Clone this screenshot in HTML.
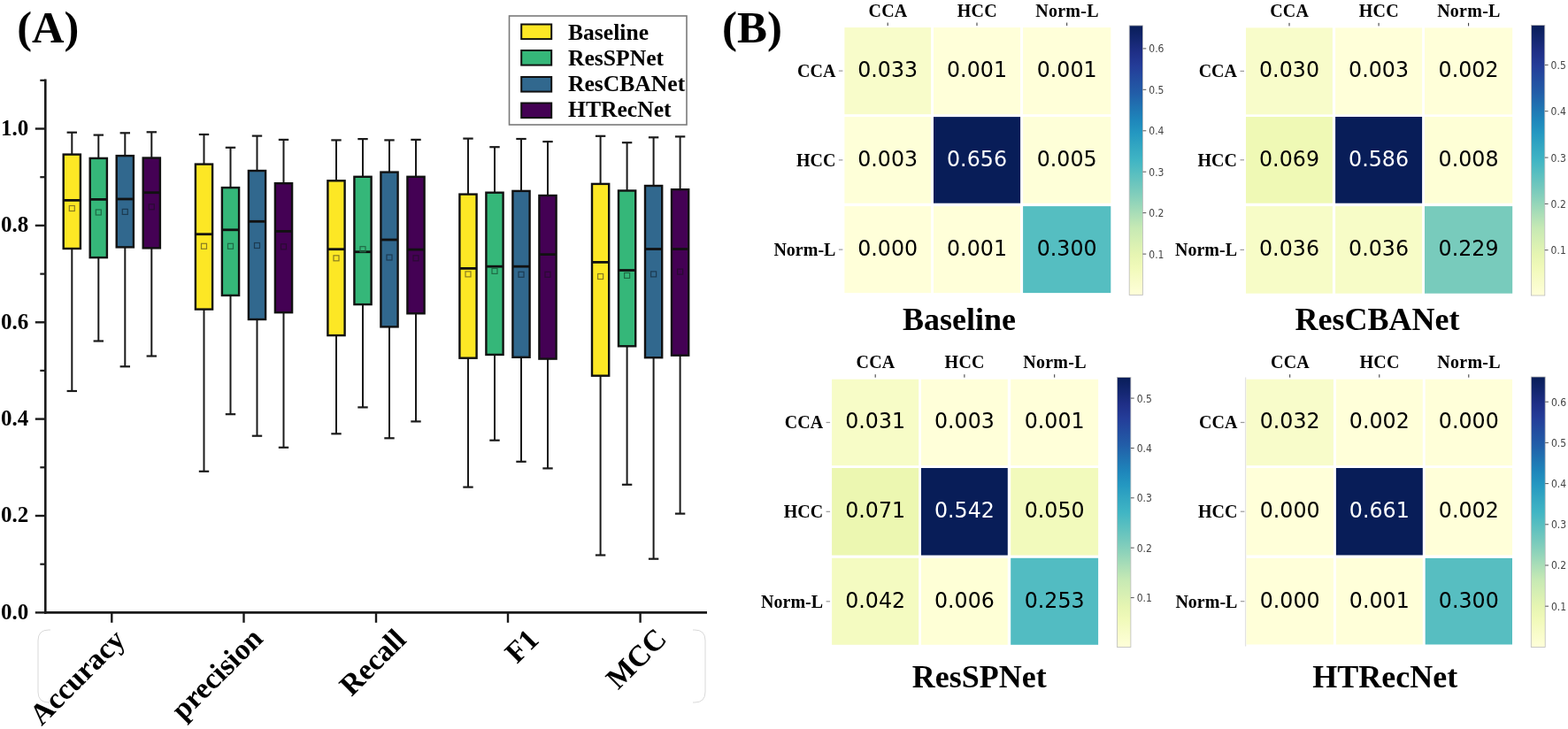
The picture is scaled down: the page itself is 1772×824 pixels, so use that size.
<!DOCTYPE html>
<html><head><meta charset="utf-8"><title>Figure</title>
<style>html,body{margin:0;padding:0;background:#fff;} svg{display:block;}</style>
</head><body>
<svg width="1772" height="824" viewBox="0 0 1772 824"><defs><linearGradient id="g1" x1="0" y1="0" x2="0" y2="1"><stop offset="0.00" stop-color="#081d58"/><stop offset="0.05" stop-color="#13266f"/><stop offset="0.10" stop-color="#1f2f87"/><stop offset="0.15" stop-color="#243c98"/><stop offset="0.20" stop-color="#234da0"/><stop offset="0.25" stop-color="#225da8"/><stop offset="0.30" stop-color="#2072b1"/><stop offset="0.35" stop-color="#1e86bb"/><stop offset="0.40" stop-color="#2498c1"/><stop offset="0.45" stop-color="#33a7c2"/><stop offset="0.50" stop-color="#40b5c4"/><stop offset="0.55" stop-color="#59bfc0"/><stop offset="0.60" stop-color="#73c8bd"/><stop offset="0.65" stop-color="#8ed3ba"/><stop offset="0.70" stop-color="#abdeb7"/><stop offset="0.75" stop-color="#c6e9b4"/><stop offset="0.80" stop-color="#d6efb3"/><stop offset="0.85" stop-color="#e6f5b2"/><stop offset="0.90" stop-color="#f1faba"/><stop offset="0.95" stop-color="#f8fcca"/><stop offset="1.00" stop-color="#ffffd9"/></linearGradient><linearGradient id="g2" x1="0" y1="0" x2="0" y2="1"><stop offset="0.00" stop-color="#081d58"/><stop offset="0.05" stop-color="#13266f"/><stop offset="0.10" stop-color="#1f2f87"/><stop offset="0.15" stop-color="#243c98"/><stop offset="0.20" stop-color="#234da0"/><stop offset="0.25" stop-color="#225da8"/><stop offset="0.30" stop-color="#2072b1"/><stop offset="0.35" stop-color="#1e86bb"/><stop offset="0.40" stop-color="#2498c1"/><stop offset="0.45" stop-color="#33a7c2"/><stop offset="0.50" stop-color="#40b5c4"/><stop offset="0.55" stop-color="#59bfc0"/><stop offset="0.60" stop-color="#73c8bd"/><stop offset="0.65" stop-color="#8ed3ba"/><stop offset="0.70" stop-color="#abdeb7"/><stop offset="0.75" stop-color="#c6e9b4"/><stop offset="0.80" stop-color="#d6efb3"/><stop offset="0.85" stop-color="#e6f5b2"/><stop offset="0.90" stop-color="#f1faba"/><stop offset="0.95" stop-color="#f8fcca"/><stop offset="1.00" stop-color="#ffffd9"/></linearGradient><linearGradient id="g3" x1="0" y1="0" x2="0" y2="1"><stop offset="0.00" stop-color="#081d58"/><stop offset="0.05" stop-color="#13266f"/><stop offset="0.10" stop-color="#1f2f87"/><stop offset="0.15" stop-color="#243c98"/><stop offset="0.20" stop-color="#234da0"/><stop offset="0.25" stop-color="#225da8"/><stop offset="0.30" stop-color="#2072b1"/><stop offset="0.35" stop-color="#1e86bb"/><stop offset="0.40" stop-color="#2498c1"/><stop offset="0.45" stop-color="#33a7c2"/><stop offset="0.50" stop-color="#40b5c4"/><stop offset="0.55" stop-color="#59bfc0"/><stop offset="0.60" stop-color="#73c8bd"/><stop offset="0.65" stop-color="#8ed3ba"/><stop offset="0.70" stop-color="#abdeb7"/><stop offset="0.75" stop-color="#c6e9b4"/><stop offset="0.80" stop-color="#d6efb3"/><stop offset="0.85" stop-color="#e6f5b2"/><stop offset="0.90" stop-color="#f1faba"/><stop offset="0.95" stop-color="#f8fcca"/><stop offset="1.00" stop-color="#ffffd9"/></linearGradient><linearGradient id="g4" x1="0" y1="0" x2="0" y2="1"><stop offset="0.00" stop-color="#081d58"/><stop offset="0.05" stop-color="#13266f"/><stop offset="0.10" stop-color="#1f2f87"/><stop offset="0.15" stop-color="#243c98"/><stop offset="0.20" stop-color="#234da0"/><stop offset="0.25" stop-color="#225da8"/><stop offset="0.30" stop-color="#2072b1"/><stop offset="0.35" stop-color="#1e86bb"/><stop offset="0.40" stop-color="#2498c1"/><stop offset="0.45" stop-color="#33a7c2"/><stop offset="0.50" stop-color="#40b5c4"/><stop offset="0.55" stop-color="#59bfc0"/><stop offset="0.60" stop-color="#73c8bd"/><stop offset="0.65" stop-color="#8ed3ba"/><stop offset="0.70" stop-color="#abdeb7"/><stop offset="0.75" stop-color="#c6e9b4"/><stop offset="0.80" stop-color="#d6efb3"/><stop offset="0.85" stop-color="#e6f5b2"/><stop offset="0.90" stop-color="#f1faba"/><stop offset="0.95" stop-color="#f8fcca"/><stop offset="1.00" stop-color="#ffffd9"/></linearGradient></defs><rect width="1772" height="824" fill="#fff"/><text x="19.2" y="48.4" font-family="'Liberation Serif', 'Times New Roman', serif" font-weight="bold" font-size="50.5">(A)</text>
<line x1="51.3" y1="89.5" x2="51.3" y2="693.6999999999999" stroke="#1a1a1a" stroke-width="2.6"/>
<line x1="50.0" y1="692.4" x2="799" y2="692.4" stroke="#1a1a1a" stroke-width="2.8"/>
<line x1="39.8" y1="692.4" x2="51.3" y2="692.4" stroke="#1a1a1a" stroke-width="2.4"/>
<text x="32.2" y="699.8" text-anchor="end" font-family="'Liberation Serif', 'Times New Roman', serif" font-weight="bold" font-size="25">0.0</text>
<line x1="45.3" y1="637.7" x2="51.3" y2="637.7" stroke="#1a1a1a" stroke-width="2.2"/>
<line x1="39.8" y1="583.0" x2="51.3" y2="583.0" stroke="#1a1a1a" stroke-width="2.4"/>
<text x="32.2" y="590.4" text-anchor="end" font-family="'Liberation Serif', 'Times New Roman', serif" font-weight="bold" font-size="25">0.2</text>
<line x1="45.3" y1="528.3" x2="51.3" y2="528.3" stroke="#1a1a1a" stroke-width="2.2"/>
<line x1="39.8" y1="473.6" x2="51.3" y2="473.6" stroke="#1a1a1a" stroke-width="2.4"/>
<text x="32.2" y="481.0" text-anchor="end" font-family="'Liberation Serif', 'Times New Roman', serif" font-weight="bold" font-size="25">0.4</text>
<line x1="45.3" y1="418.9" x2="51.3" y2="418.9" stroke="#1a1a1a" stroke-width="2.2"/>
<line x1="39.8" y1="364.3" x2="51.3" y2="364.3" stroke="#1a1a1a" stroke-width="2.4"/>
<text x="32.2" y="371.7" text-anchor="end" font-family="'Liberation Serif', 'Times New Roman', serif" font-weight="bold" font-size="25">0.6</text>
<line x1="45.3" y1="309.6" x2="51.3" y2="309.6" stroke="#1a1a1a" stroke-width="2.2"/>
<line x1="39.8" y1="254.9" x2="51.3" y2="254.9" stroke="#1a1a1a" stroke-width="2.4"/>
<text x="32.2" y="262.3" text-anchor="end" font-family="'Liberation Serif', 'Times New Roman', serif" font-weight="bold" font-size="25">0.8</text>
<line x1="45.3" y1="200.2" x2="51.3" y2="200.2" stroke="#1a1a1a" stroke-width="2.2"/>
<line x1="39.8" y1="145.5" x2="51.3" y2="145.5" stroke="#1a1a1a" stroke-width="2.4"/>
<text x="32.2" y="152.9" text-anchor="end" font-family="'Liberation Serif', 'Times New Roman', serif" font-weight="bold" font-size="25">1.0</text>
<line x1="45.3" y1="90.8" x2="51.3" y2="90.8" stroke="#1a1a1a" stroke-width="2.2"/>
<line x1="126.3" y1="692.4" x2="126.3" y2="703.8" stroke="#1a1a1a" stroke-width="2.4"/>
<line x1="275.5" y1="692.4" x2="275.5" y2="703.8" stroke="#1a1a1a" stroke-width="2.4"/>
<line x1="425.0" y1="692.4" x2="425.0" y2="703.8" stroke="#1a1a1a" stroke-width="2.4"/>
<line x1="574.0" y1="692.4" x2="574.0" y2="703.8" stroke="#1a1a1a" stroke-width="2.4"/>
<line x1="723.6" y1="692.4" x2="723.6" y2="703.8" stroke="#1a1a1a" stroke-width="2.4"/>
<line x1="81.3" y1="149.7" x2="81.3" y2="174.0" stroke="#1a1a1a" stroke-width="2"/>
<line x1="81.3" y1="281.4" x2="81.3" y2="442.0" stroke="#1a1a1a" stroke-width="2"/>
<line x1="75.6" y1="149.7" x2="87.0" y2="149.7" stroke="#1a1a1a" stroke-width="2.2"/>
<line x1="75.6" y1="442.0" x2="87.0" y2="442.0" stroke="#1a1a1a" stroke-width="2.2"/>
<rect x="71.7" y="174.6" width="19.2" height="106.4" fill="#fde725" stroke="#111" stroke-width="2.4"/>
<line x1="71.7" y1="226.4" x2="90.9" y2="226.4" stroke="#111" stroke-width="2.8"/>
<rect x="78.3" y="232.5" width="6" height="6" fill="none" stroke="#8a7d22" stroke-width="1.2"/>
<line x1="111.3" y1="152.6" x2="111.3" y2="178.3" stroke="#1a1a1a" stroke-width="2"/>
<line x1="111.3" y1="291.5" x2="111.3" y2="385.5" stroke="#1a1a1a" stroke-width="2"/>
<line x1="105.6" y1="152.6" x2="117.0" y2="152.6" stroke="#1a1a1a" stroke-width="2.2"/>
<line x1="105.6" y1="385.5" x2="117.0" y2="385.5" stroke="#1a1a1a" stroke-width="2.2"/>
<rect x="101.7" y="178.9" width="19.2" height="112.2" fill="#35b779" stroke="#111" stroke-width="2.4"/>
<line x1="101.7" y1="225.4" x2="120.9" y2="225.4" stroke="#111" stroke-width="2.8"/>
<rect x="108.3" y="237.0" width="6" height="6" fill="none" stroke="#1f6b45" stroke-width="1.2"/>
<line x1="141.3" y1="150.3" x2="141.3" y2="175.5" stroke="#1a1a1a" stroke-width="2"/>
<line x1="141.3" y1="279.8" x2="141.3" y2="414.3" stroke="#1a1a1a" stroke-width="2"/>
<line x1="135.6" y1="150.3" x2="147.0" y2="150.3" stroke="#1a1a1a" stroke-width="2.2"/>
<line x1="135.6" y1="414.3" x2="147.0" y2="414.3" stroke="#1a1a1a" stroke-width="2.2"/>
<rect x="131.7" y="176.1" width="19.2" height="103.3" fill="#31688e" stroke="#111" stroke-width="2.4"/>
<line x1="131.7" y1="225.0" x2="150.9" y2="225.0" stroke="#111" stroke-width="2.8"/>
<rect x="138.3" y="236.4" width="6" height="6" fill="none" stroke="#1c3b52" stroke-width="1.2"/>
<line x1="171.3" y1="149.3" x2="171.3" y2="177.9" stroke="#1a1a1a" stroke-width="2"/>
<line x1="171.3" y1="280.8" x2="171.3" y2="402.5" stroke="#1a1a1a" stroke-width="2"/>
<line x1="165.6" y1="149.3" x2="177.0" y2="149.3" stroke="#1a1a1a" stroke-width="2.2"/>
<line x1="165.6" y1="402.5" x2="177.0" y2="402.5" stroke="#1a1a1a" stroke-width="2.2"/>
<rect x="161.7" y="178.5" width="19.2" height="101.9" fill="#440154" stroke="#111" stroke-width="2.4"/>
<line x1="161.7" y1="217.7" x2="180.9" y2="217.7" stroke="#111" stroke-width="2.8"/>
<rect x="168.3" y="230.8" width="6" height="6" fill="none" stroke="#2a0a33" stroke-width="1.2"/>
<line x1="230.5" y1="152.0" x2="230.5" y2="185.0" stroke="#1a1a1a" stroke-width="2"/>
<line x1="230.5" y1="350.0" x2="230.5" y2="532.8" stroke="#1a1a1a" stroke-width="2"/>
<line x1="224.8" y1="152.0" x2="236.2" y2="152.0" stroke="#1a1a1a" stroke-width="2.2"/>
<line x1="224.8" y1="532.8" x2="236.2" y2="532.8" stroke="#1a1a1a" stroke-width="2.2"/>
<rect x="220.9" y="185.6" width="19.2" height="164.0" fill="#fde725" stroke="#111" stroke-width="2.4"/>
<line x1="220.9" y1="264.7" x2="240.1" y2="264.7" stroke="#111" stroke-width="2.8"/>
<rect x="227.5" y="275.3" width="6" height="6" fill="none" stroke="#8a7d22" stroke-width="1.2"/>
<line x1="260.5" y1="166.8" x2="260.5" y2="211.5" stroke="#1a1a1a" stroke-width="2"/>
<line x1="260.5" y1="334.3" x2="260.5" y2="468.2" stroke="#1a1a1a" stroke-width="2"/>
<line x1="254.8" y1="166.8" x2="266.2" y2="166.8" stroke="#1a1a1a" stroke-width="2.2"/>
<line x1="254.8" y1="468.2" x2="266.2" y2="468.2" stroke="#1a1a1a" stroke-width="2.2"/>
<rect x="250.9" y="212.1" width="19.2" height="121.8" fill="#35b779" stroke="#111" stroke-width="2.4"/>
<line x1="250.9" y1="259.8" x2="270.1" y2="259.8" stroke="#111" stroke-width="2.8"/>
<rect x="257.5" y="275.3" width="6" height="6" fill="none" stroke="#1f6b45" stroke-width="1.2"/>
<line x1="290.5" y1="153.6" x2="290.5" y2="192.4" stroke="#1a1a1a" stroke-width="2"/>
<line x1="290.5" y1="361.4" x2="290.5" y2="492.7" stroke="#1a1a1a" stroke-width="2"/>
<line x1="284.8" y1="153.6" x2="296.2" y2="153.6" stroke="#1a1a1a" stroke-width="2.2"/>
<line x1="284.8" y1="492.7" x2="296.2" y2="492.7" stroke="#1a1a1a" stroke-width="2.2"/>
<rect x="280.9" y="193.0" width="19.2" height="168.0" fill="#31688e" stroke="#111" stroke-width="2.4"/>
<line x1="280.9" y1="250.3" x2="300.1" y2="250.3" stroke="#111" stroke-width="2.8"/>
<rect x="287.5" y="274.5" width="6" height="6" fill="none" stroke="#1c3b52" stroke-width="1.2"/>
<line x1="320.5" y1="157.9" x2="320.5" y2="206.6" stroke="#1a1a1a" stroke-width="2"/>
<line x1="320.5" y1="353.6" x2="320.5" y2="505.8" stroke="#1a1a1a" stroke-width="2"/>
<line x1="314.8" y1="157.9" x2="326.2" y2="157.9" stroke="#1a1a1a" stroke-width="2.2"/>
<line x1="314.8" y1="505.8" x2="326.2" y2="505.8" stroke="#1a1a1a" stroke-width="2.2"/>
<rect x="310.9" y="207.2" width="19.2" height="146.0" fill="#440154" stroke="#111" stroke-width="2.4"/>
<line x1="310.9" y1="261.4" x2="330.1" y2="261.4" stroke="#111" stroke-width="2.8"/>
<rect x="317.5" y="275.8" width="6" height="6" fill="none" stroke="#2a0a33" stroke-width="1.2"/>
<line x1="380.0" y1="158.4" x2="380.0" y2="203.7" stroke="#1a1a1a" stroke-width="2"/>
<line x1="380.0" y1="379.5" x2="380.0" y2="490.3" stroke="#1a1a1a" stroke-width="2"/>
<line x1="374.3" y1="158.4" x2="385.7" y2="158.4" stroke="#1a1a1a" stroke-width="2.2"/>
<line x1="374.3" y1="490.3" x2="385.7" y2="490.3" stroke="#1a1a1a" stroke-width="2.2"/>
<rect x="370.4" y="204.3" width="19.2" height="174.8" fill="#fde725" stroke="#111" stroke-width="2.4"/>
<line x1="370.4" y1="281.7" x2="389.6" y2="281.7" stroke="#111" stroke-width="2.8"/>
<rect x="377.0" y="288.8" width="6" height="6" fill="none" stroke="#8a7d22" stroke-width="1.2"/>
<line x1="410.0" y1="157.1" x2="410.0" y2="199.2" stroke="#1a1a1a" stroke-width="2"/>
<line x1="410.0" y1="344.5" x2="410.0" y2="460.4" stroke="#1a1a1a" stroke-width="2"/>
<line x1="404.3" y1="157.1" x2="415.7" y2="157.1" stroke="#1a1a1a" stroke-width="2.2"/>
<line x1="404.3" y1="460.4" x2="415.7" y2="460.4" stroke="#1a1a1a" stroke-width="2.2"/>
<rect x="400.4" y="199.8" width="19.2" height="144.3" fill="#35b779" stroke="#111" stroke-width="2.4"/>
<line x1="400.4" y1="284.7" x2="419.6" y2="284.7" stroke="#111" stroke-width="2.8"/>
<rect x="407.0" y="278.7" width="6" height="6" fill="none" stroke="#1f6b45" stroke-width="1.2"/>
<line x1="440.0" y1="158.4" x2="440.0" y2="194.0" stroke="#1a1a1a" stroke-width="2"/>
<line x1="440.0" y1="369.8" x2="440.0" y2="495.3" stroke="#1a1a1a" stroke-width="2"/>
<line x1="434.3" y1="158.4" x2="445.7" y2="158.4" stroke="#1a1a1a" stroke-width="2.2"/>
<line x1="434.3" y1="495.3" x2="445.7" y2="495.3" stroke="#1a1a1a" stroke-width="2.2"/>
<rect x="430.4" y="194.6" width="19.2" height="174.8" fill="#31688e" stroke="#111" stroke-width="2.4"/>
<line x1="430.4" y1="271.0" x2="449.6" y2="271.0" stroke="#111" stroke-width="2.8"/>
<rect x="437.0" y="288.0" width="6" height="6" fill="none" stroke="#1c3b52" stroke-width="1.2"/>
<line x1="470.0" y1="157.9" x2="470.0" y2="199.2" stroke="#1a1a1a" stroke-width="2"/>
<line x1="470.0" y1="354.7" x2="470.0" y2="476.4" stroke="#1a1a1a" stroke-width="2"/>
<line x1="464.3" y1="157.9" x2="475.7" y2="157.9" stroke="#1a1a1a" stroke-width="2.2"/>
<line x1="464.3" y1="476.4" x2="475.7" y2="476.4" stroke="#1a1a1a" stroke-width="2.2"/>
<rect x="460.4" y="199.8" width="19.2" height="154.5" fill="#440154" stroke="#111" stroke-width="2.4"/>
<line x1="460.4" y1="282.1" x2="479.6" y2="282.1" stroke="#111" stroke-width="2.8"/>
<rect x="467.0" y="288.8" width="6" height="6" fill="none" stroke="#2a0a33" stroke-width="1.2"/>
<line x1="529.0" y1="156.6" x2="529.0" y2="219.0" stroke="#1a1a1a" stroke-width="2"/>
<line x1="529.0" y1="405.1" x2="529.0" y2="550.6" stroke="#1a1a1a" stroke-width="2"/>
<line x1="523.3" y1="156.6" x2="534.7" y2="156.6" stroke="#1a1a1a" stroke-width="2.2"/>
<line x1="523.3" y1="550.6" x2="534.7" y2="550.6" stroke="#1a1a1a" stroke-width="2.2"/>
<rect x="519.4" y="219.6" width="19.2" height="185.1" fill="#fde725" stroke="#111" stroke-width="2.4"/>
<line x1="519.4" y1="303.4" x2="538.6" y2="303.4" stroke="#111" stroke-width="2.8"/>
<rect x="526.0" y="306.9" width="6" height="6" fill="none" stroke="#8a7d22" stroke-width="1.2"/>
<line x1="559.0" y1="166.2" x2="559.0" y2="217.1" stroke="#1a1a1a" stroke-width="2"/>
<line x1="559.0" y1="401.3" x2="559.0" y2="497.7" stroke="#1a1a1a" stroke-width="2"/>
<line x1="553.3" y1="166.2" x2="564.7" y2="166.2" stroke="#1a1a1a" stroke-width="2.2"/>
<line x1="553.3" y1="497.7" x2="564.7" y2="497.7" stroke="#1a1a1a" stroke-width="2.2"/>
<rect x="549.4" y="217.7" width="19.2" height="183.2" fill="#35b779" stroke="#111" stroke-width="2.4"/>
<line x1="549.4" y1="301.2" x2="568.6" y2="301.2" stroke="#111" stroke-width="2.8"/>
<rect x="556.0" y="303.4" width="6" height="6" fill="none" stroke="#1f6b45" stroke-width="1.2"/>
<line x1="589.0" y1="157.0" x2="589.0" y2="215.3" stroke="#1a1a1a" stroke-width="2"/>
<line x1="589.0" y1="404.2" x2="589.0" y2="521.8" stroke="#1a1a1a" stroke-width="2"/>
<line x1="583.3" y1="157.0" x2="594.7" y2="157.0" stroke="#1a1a1a" stroke-width="2.2"/>
<line x1="583.3" y1="521.8" x2="594.7" y2="521.8" stroke="#1a1a1a" stroke-width="2.2"/>
<rect x="579.4" y="215.9" width="19.2" height="187.9" fill="#31688e" stroke="#111" stroke-width="2.4"/>
<line x1="579.4" y1="301.2" x2="598.6" y2="301.2" stroke="#111" stroke-width="2.8"/>
<rect x="586.0" y="307.3" width="6" height="6" fill="none" stroke="#1c3b52" stroke-width="1.2"/>
<line x1="619.0" y1="160.1" x2="619.0" y2="220.4" stroke="#1a1a1a" stroke-width="2"/>
<line x1="619.0" y1="406.0" x2="619.0" y2="529.4" stroke="#1a1a1a" stroke-width="2"/>
<line x1="613.3" y1="160.1" x2="624.7" y2="160.1" stroke="#1a1a1a" stroke-width="2.2"/>
<line x1="613.3" y1="529.4" x2="624.7" y2="529.4" stroke="#1a1a1a" stroke-width="2.2"/>
<rect x="609.4" y="221.0" width="19.2" height="184.6" fill="#440154" stroke="#111" stroke-width="2.4"/>
<line x1="609.4" y1="287.6" x2="628.6" y2="287.6" stroke="#111" stroke-width="2.8"/>
<rect x="616.0" y="307.3" width="6" height="6" fill="none" stroke="#2a0a33" stroke-width="1.2"/>
<line x1="678.6" y1="153.8" x2="678.6" y2="207.3" stroke="#1a1a1a" stroke-width="2"/>
<line x1="678.6" y1="425.1" x2="678.6" y2="627.5" stroke="#1a1a1a" stroke-width="2"/>
<line x1="672.9" y1="153.8" x2="684.3" y2="153.8" stroke="#1a1a1a" stroke-width="2.2"/>
<line x1="672.9" y1="627.5" x2="684.3" y2="627.5" stroke="#1a1a1a" stroke-width="2.2"/>
<rect x="669.0" y="207.9" width="19.2" height="216.8" fill="#fde725" stroke="#111" stroke-width="2.4"/>
<line x1="669.0" y1="296.4" x2="688.2" y2="296.4" stroke="#111" stroke-width="2.8"/>
<rect x="675.6" y="309.5" width="6" height="6" fill="none" stroke="#8a7d22" stroke-width="1.2"/>
<line x1="708.6" y1="161.2" x2="708.6" y2="214.9" stroke="#1a1a1a" stroke-width="2"/>
<line x1="708.6" y1="391.7" x2="708.6" y2="547.8" stroke="#1a1a1a" stroke-width="2"/>
<line x1="702.9" y1="161.2" x2="714.3" y2="161.2" stroke="#1a1a1a" stroke-width="2.2"/>
<line x1="702.9" y1="547.8" x2="714.3" y2="547.8" stroke="#1a1a1a" stroke-width="2.2"/>
<rect x="699.0" y="215.5" width="19.2" height="175.8" fill="#35b779" stroke="#111" stroke-width="2.4"/>
<line x1="699.0" y1="305.5" x2="718.2" y2="305.5" stroke="#111" stroke-width="2.8"/>
<rect x="705.6" y="308.4" width="6" height="6" fill="none" stroke="#1f6b45" stroke-width="1.2"/>
<line x1="738.6" y1="155.3" x2="738.6" y2="209.4" stroke="#1a1a1a" stroke-width="2"/>
<line x1="738.6" y1="404.6" x2="738.6" y2="631.7" stroke="#1a1a1a" stroke-width="2"/>
<line x1="732.9" y1="155.3" x2="744.3" y2="155.3" stroke="#1a1a1a" stroke-width="2.2"/>
<line x1="732.9" y1="631.7" x2="744.3" y2="631.7" stroke="#1a1a1a" stroke-width="2.2"/>
<rect x="729.0" y="210.0" width="19.2" height="194.2" fill="#31688e" stroke="#111" stroke-width="2.4"/>
<line x1="729.0" y1="281.5" x2="748.2" y2="281.5" stroke="#111" stroke-width="2.8"/>
<rect x="735.6" y="306.9" width="6" height="6" fill="none" stroke="#1c3b52" stroke-width="1.2"/>
<line x1="768.6" y1="154.4" x2="768.6" y2="213.6" stroke="#1a1a1a" stroke-width="2"/>
<line x1="768.6" y1="402.1" x2="768.6" y2="580.6" stroke="#1a1a1a" stroke-width="2"/>
<line x1="762.9" y1="154.4" x2="774.3" y2="154.4" stroke="#1a1a1a" stroke-width="2.2"/>
<line x1="762.9" y1="580.6" x2="774.3" y2="580.6" stroke="#1a1a1a" stroke-width="2.2"/>
<rect x="759.0" y="214.2" width="19.2" height="187.5" fill="#440154" stroke="#111" stroke-width="2.4"/>
<line x1="759.0" y1="281.5" x2="778.2" y2="281.5" stroke="#111" stroke-width="2.8"/>
<rect x="765.6" y="304.1" width="6" height="6" fill="none" stroke="#2a0a33" stroke-width="1.2"/>
<text transform="translate(143.0,725.1) rotate(-45)" text-anchor="end" font-family="'Liberation Serif', 'Times New Roman', serif" font-weight="bold" font-size="33.5">Accuracy</text>
<text transform="translate(298.7,723.6) rotate(-45)" text-anchor="end" font-family="'Liberation Serif', 'Times New Roman', serif" font-weight="bold" font-size="33.5">precision</text>
<text transform="translate(460.5,724.8) rotate(-45)" text-anchor="end" font-family="'Liberation Serif', 'Times New Roman', serif" font-weight="bold" font-size="33.5">Recall</text>
<text transform="translate(610.5,724.8) rotate(-45)" text-anchor="end" font-family="'Liberation Serif', 'Times New Roman', serif" font-weight="bold" font-size="33.5">F1</text>
<text transform="translate(755.1,724.0) rotate(-45)" text-anchor="end" font-family="'Liberation Serif', 'Times New Roman', serif" font-weight="bold" font-size="33.5">MCC</text>
<path d="M57 712 H55 Q43 712 43 724 V782 Q43 794 55 794 H57" fill="none" stroke="#d9d9d9" stroke-width="1"/>
<path d="M783 712 H785 Q797 712 797 724 V782 Q797 794 785 794 H783" fill="none" stroke="#d9d9d9" stroke-width="1"/>
<rect x="575.5" y="18" width="200.5" height="123" fill="#fff" stroke="#7a7a7a" stroke-width="1.6"/>
<rect x="589.2" y="27.5" width="34" height="16.6" fill="#fde725" stroke="#111" stroke-width="2"/>
<text x="642" y="44.6" font-family="'Liberation Serif', 'Times New Roman', serif" font-weight="bold" font-size="25.6">Baseline</text>
<rect x="589.2" y="57.0" width="34" height="16.6" fill="#35b779" stroke="#111" stroke-width="2"/>
<text x="642" y="73.6" font-family="'Liberation Serif', 'Times New Roman', serif" font-weight="bold" font-size="25.6">ResSPNet</text>
<rect x="589.2" y="87.0" width="34" height="16.6" fill="#31688e" stroke="#111" stroke-width="2"/>
<text x="642" y="102.7" font-family="'Liberation Serif', 'Times New Roman', serif" font-weight="bold" font-size="25.6">ResCBANet</text>
<rect x="589.2" y="116.5" width="34" height="16.6" fill="#440154" stroke="#111" stroke-width="2"/>
<text x="642" y="132.0" font-family="'Liberation Serif', 'Times New Roman', serif" font-weight="bold" font-size="25.6">HTRecNet</text>
<line x1="1407.6" y1="426.5" x2="1407.6" y2="730.6" stroke="#e2e2e2" stroke-width="1.3"/>
<text x="816" y="47.5" font-family="'Liberation Serif', 'Times New Roman', serif" font-weight="bold" font-size="51">(B)</text>
<rect x="954.4" y="31.1" width="97.7" height="98.1" fill="#f8fcca"/>
<text transform="translate(1003.2,86.9) scale(0.95,1.0)" text-anchor="middle" font-family="'DejaVu Sans', 'Liberation Sans', sans-serif" font-size="25" fill="#000000">0.033</text>
<rect x="1055.0" y="31.1" width="98.1" height="98.1" fill="#ffffd9"/>
<text transform="translate(1104.0,86.9) scale(0.95,1.0)" text-anchor="middle" font-family="'DejaVu Sans', 'Liberation Sans', sans-serif" font-size="25" fill="#000000">0.001</text>
<rect x="1156.1" y="31.1" width="99.2" height="98.1" fill="#ffffd9"/>
<text transform="translate(1205.7,86.9) scale(0.95,1.0)" text-anchor="middle" font-family="'DejaVu Sans', 'Liberation Sans', sans-serif" font-size="25" fill="#000000">0.001</text>
<rect x="954.4" y="132.1" width="97.7" height="97.6" fill="#feffd8"/>
<text transform="translate(1003.2,187.7) scale(0.95,1.0)" text-anchor="middle" font-family="'DejaVu Sans', 'Liberation Sans', sans-serif" font-size="25" fill="#000000">0.003</text>
<rect x="1055.0" y="132.1" width="98.1" height="97.6" fill="#081d58"/>
<text transform="translate(1104.0,187.7) scale(0.95,1.0)" text-anchor="middle" font-family="'DejaVu Sans', 'Liberation Sans', sans-serif" font-size="25" fill="#ffffff">0.656</text>
<rect x="1156.1" y="132.1" width="99.2" height="97.6" fill="#feffd8"/>
<text transform="translate(1205.7,187.7) scale(0.95,1.0)" text-anchor="middle" font-family="'DejaVu Sans', 'Liberation Sans', sans-serif" font-size="25" fill="#000000">0.005</text>
<rect x="954.4" y="233.1" width="97.7" height="98.0" fill="#ffffd9"/>
<text transform="translate(1003.2,288.9) scale(0.95,1.0)" text-anchor="middle" font-family="'DejaVu Sans', 'Liberation Sans', sans-serif" font-size="25" fill="#000000">0.000</text>
<rect x="1055.0" y="233.1" width="98.1" height="98.0" fill="#ffffd9"/>
<text transform="translate(1104.0,288.9) scale(0.95,1.0)" text-anchor="middle" font-family="'DejaVu Sans', 'Liberation Sans', sans-serif" font-size="25" fill="#000000">0.001</text>
<rect x="1156.1" y="233.1" width="99.2" height="98.0" fill="#55bec1"/>
<text transform="translate(1205.7,288.9) scale(0.95,1.0)" text-anchor="middle" font-family="'DejaVu Sans', 'Liberation Sans', sans-serif" font-size="25" fill="#000000">0.300</text>
<text x="1003.5" y="18.5" text-anchor="middle" font-family="'Liberation Serif', 'Times New Roman', serif" font-weight="bold" font-size="20" letter-spacing="0.25">CCA</text>
<line x1="1003.2" y1="25.6" x2="1003.2" y2="29.1" stroke="#333" stroke-width="1"/>
<text x="1104.3" y="18.5" text-anchor="middle" font-family="'Liberation Serif', 'Times New Roman', serif" font-weight="bold" font-size="20" letter-spacing="0.25">HCC</text>
<line x1="1104.0" y1="25.6" x2="1104.0" y2="29.1" stroke="#333" stroke-width="1"/>
<text x="1206.0" y="18.5" text-anchor="middle" font-family="'Liberation Serif', 'Times New Roman', serif" font-weight="bold" font-size="20" letter-spacing="0.25">Norm-L</text>
<line x1="1205.7" y1="25.6" x2="1205.7" y2="29.1" stroke="#333" stroke-width="1"/>
<text x="944.4" y="86.9" text-anchor="end" font-family="'Liberation Serif', 'Times New Roman', serif" font-weight="bold" font-size="20">CCA</text>
<line x1="947.9" y1="80.1" x2="952.4" y2="80.1" stroke="#999" stroke-width="1.2"/>
<text x="944.4" y="187.7" text-anchor="end" font-family="'Liberation Serif', 'Times New Roman', serif" font-weight="bold" font-size="20">HCC</text>
<line x1="947.9" y1="180.9" x2="952.4" y2="180.9" stroke="#999" stroke-width="1.2"/>
<text x="944.4" y="288.9" text-anchor="end" font-family="'Liberation Serif', 'Times New Roman', serif" font-weight="bold" font-size="20">Norm-L</text>
<line x1="947.9" y1="282.1" x2="952.4" y2="282.1" stroke="#999" stroke-width="1.2"/>
<rect x="1276.2" y="28.9" width="15.3" height="304.6" fill="url(#g1)" stroke="#bbb" stroke-width="0.8"/>
<line x1="1291.5" y1="287.1" x2="1295.3" y2="287.1" stroke="#555" stroke-width="1"/>
<text transform="translate(1298.3,291.5) scale(0.94,1.1)" font-family="'DejaVu Sans', 'Liberation Sans', sans-serif" font-size="11.5" fill="#444">0.1</text>
<line x1="1291.5" y1="240.6" x2="1295.3" y2="240.6" stroke="#555" stroke-width="1"/>
<text transform="translate(1298.3,245.0) scale(0.94,1.1)" font-family="'DejaVu Sans', 'Liberation Sans', sans-serif" font-size="11.5" fill="#444">0.2</text>
<line x1="1291.5" y1="194.2" x2="1295.3" y2="194.2" stroke="#555" stroke-width="1"/>
<text transform="translate(1298.3,198.6) scale(0.94,1.1)" font-family="'DejaVu Sans', 'Liberation Sans', sans-serif" font-size="11.5" fill="#444">0.3</text>
<line x1="1291.5" y1="147.8" x2="1295.3" y2="147.8" stroke="#555" stroke-width="1"/>
<text transform="translate(1298.3,152.2) scale(0.94,1.1)" font-family="'DejaVu Sans', 'Liberation Sans', sans-serif" font-size="11.5" fill="#444">0.4</text>
<line x1="1291.5" y1="101.3" x2="1295.3" y2="101.3" stroke="#555" stroke-width="1"/>
<text transform="translate(1298.3,105.7) scale(0.94,1.1)" font-family="'DejaVu Sans', 'Liberation Sans', sans-serif" font-size="11.5" fill="#444">0.5</text>
<line x1="1291.5" y1="54.9" x2="1295.3" y2="54.9" stroke="#555" stroke-width="1"/>
<text transform="translate(1298.3,59.3) scale(0.94,1.1)" font-family="'DejaVu Sans', 'Liberation Sans', sans-serif" font-size="11.5" fill="#444">0.6</text>
<text x="1084.0" y="372.7" text-anchor="middle" font-family="'Liberation Serif', 'Times New Roman', serif" font-weight="bold" font-size="36">Baseline</text>
<rect x="1408.0" y="31.4" width="97.9" height="98.0" fill="#f8fcca"/>
<text transform="translate(1457.0,87.2) scale(0.95,1.0)" text-anchor="middle" font-family="'DejaVu Sans', 'Liberation Sans', sans-serif" font-size="25" fill="#000000">0.030</text>
<rect x="1509.1" y="31.4" width="98.0" height="98.0" fill="#ffffd9"/>
<text transform="translate(1558.1,87.2) scale(0.95,1.0)" text-anchor="middle" font-family="'DejaVu Sans', 'Liberation Sans', sans-serif" font-size="25" fill="#000000">0.003</text>
<rect x="1610.0" y="31.4" width="99.2" height="98.0" fill="#ffffd9"/>
<text transform="translate(1659.6,87.2) scale(0.95,1.0)" text-anchor="middle" font-family="'DejaVu Sans', 'Liberation Sans', sans-serif" font-size="25" fill="#000000">0.002</text>
<rect x="1408.0" y="132.0" width="97.9" height="97.7" fill="#eff9b5"/>
<text transform="translate(1457.0,187.7) scale(0.95,1.0)" text-anchor="middle" font-family="'DejaVu Sans', 'Liberation Sans', sans-serif" font-size="25" fill="#000000">0.069</text>
<rect x="1509.1" y="132.0" width="98.0" height="97.7" fill="#081d58"/>
<text transform="translate(1558.1,187.7) scale(0.95,1.0)" text-anchor="middle" font-family="'DejaVu Sans', 'Liberation Sans', sans-serif" font-size="25" fill="#ffffff">0.586</text>
<rect x="1610.0" y="132.0" width="99.2" height="97.7" fill="#feffd6"/>
<text transform="translate(1659.6,187.7) scale(0.95,1.0)" text-anchor="middle" font-family="'DejaVu Sans', 'Liberation Sans', sans-serif" font-size="25" fill="#000000">0.008</text>
<rect x="1408.0" y="233.1" width="97.9" height="98.6" fill="#f7fcc7"/>
<text transform="translate(1457.0,289.2) scale(0.95,1.0)" text-anchor="middle" font-family="'DejaVu Sans', 'Liberation Sans', sans-serif" font-size="25" fill="#000000">0.036</text>
<rect x="1509.1" y="233.1" width="98.0" height="98.6" fill="#f7fcc7"/>
<text transform="translate(1558.1,289.2) scale(0.95,1.0)" text-anchor="middle" font-family="'DejaVu Sans', 'Liberation Sans', sans-serif" font-size="25" fill="#000000">0.036</text>
<rect x="1610.0" y="233.1" width="99.2" height="98.6" fill="#78cbbc"/>
<text transform="translate(1659.6,289.2) scale(0.95,1.0)" text-anchor="middle" font-family="'DejaVu Sans', 'Liberation Sans', sans-serif" font-size="25" fill="#000000">0.229</text>
<text x="1457.2" y="18.8" text-anchor="middle" font-family="'Liberation Serif', 'Times New Roman', serif" font-weight="bold" font-size="20" letter-spacing="0.25">CCA</text>
<line x1="1457.0" y1="25.9" x2="1457.0" y2="29.4" stroke="#333" stroke-width="1"/>
<text x="1558.4" y="18.8" text-anchor="middle" font-family="'Liberation Serif', 'Times New Roman', serif" font-weight="bold" font-size="20" letter-spacing="0.25">HCC</text>
<line x1="1558.1" y1="25.9" x2="1558.1" y2="29.4" stroke="#333" stroke-width="1"/>
<text x="1659.9" y="18.8" text-anchor="middle" font-family="'Liberation Serif', 'Times New Roman', serif" font-weight="bold" font-size="20" letter-spacing="0.25">Norm-L</text>
<line x1="1659.6" y1="25.9" x2="1659.6" y2="29.4" stroke="#333" stroke-width="1"/>
<text x="1398.0" y="87.2" text-anchor="end" font-family="'Liberation Serif', 'Times New Roman', serif" font-weight="bold" font-size="20">CCA</text>
<line x1="1401.5" y1="80.4" x2="1406.0" y2="80.4" stroke="#999" stroke-width="1.2"/>
<text x="1398.0" y="187.7" text-anchor="end" font-family="'Liberation Serif', 'Times New Roman', serif" font-weight="bold" font-size="20">HCC</text>
<line x1="1401.5" y1="180.8" x2="1406.0" y2="180.8" stroke="#999" stroke-width="1.2"/>
<text x="1398.0" y="289.2" text-anchor="end" font-family="'Liberation Serif', 'Times New Roman', serif" font-weight="bold" font-size="20">Norm-L</text>
<line x1="1401.5" y1="282.4" x2="1406.0" y2="282.4" stroke="#999" stroke-width="1.2"/>
<rect x="1730.5" y="28.4" width="15.3" height="305.6" fill="url(#g2)" stroke="#bbb" stroke-width="0.8"/>
<line x1="1745.8" y1="282.7" x2="1749.6" y2="282.7" stroke="#555" stroke-width="1"/>
<text transform="translate(1752.6,287.1) scale(0.94,1.1)" font-family="'DejaVu Sans', 'Liberation Sans', sans-serif" font-size="11.5" fill="#444">0.1</text>
<line x1="1745.8" y1="230.4" x2="1749.6" y2="230.4" stroke="#555" stroke-width="1"/>
<text transform="translate(1752.6,234.8) scale(0.94,1.1)" font-family="'DejaVu Sans', 'Liberation Sans', sans-serif" font-size="11.5" fill="#444">0.2</text>
<line x1="1745.8" y1="178.1" x2="1749.6" y2="178.1" stroke="#555" stroke-width="1"/>
<text transform="translate(1752.6,182.5) scale(0.94,1.1)" font-family="'DejaVu Sans', 'Liberation Sans', sans-serif" font-size="11.5" fill="#444">0.3</text>
<line x1="1745.8" y1="125.7" x2="1749.6" y2="125.7" stroke="#555" stroke-width="1"/>
<text transform="translate(1752.6,130.1) scale(0.94,1.1)" font-family="'DejaVu Sans', 'Liberation Sans', sans-serif" font-size="11.5" fill="#444">0.4</text>
<line x1="1745.8" y1="73.4" x2="1749.6" y2="73.4" stroke="#555" stroke-width="1"/>
<text transform="translate(1752.6,77.8) scale(0.94,1.1)" font-family="'DejaVu Sans', 'Liberation Sans', sans-serif" font-size="11.5" fill="#444">0.5</text>
<text x="1556.5" y="372.5" text-anchor="middle" font-family="'Liberation Serif', 'Times New Roman', serif" font-weight="bold" font-size="36">ResCBANet</text>
<rect x="940.1" y="428.7" width="98.1" height="97.5" fill="#f7fcc7"/>
<text transform="translate(989.2,484.3) scale(0.95,1.0)" text-anchor="middle" font-family="'DejaVu Sans', 'Liberation Sans', sans-serif" font-size="25" fill="#000000">0.031</text>
<rect x="1041.0" y="428.7" width="97.8" height="97.5" fill="#ffffd9"/>
<text transform="translate(1089.9,484.3) scale(0.95,1.0)" text-anchor="middle" font-family="'DejaVu Sans', 'Liberation Sans', sans-serif" font-size="25" fill="#000000">0.003</text>
<rect x="1142.2" y="428.7" width="98.9" height="97.5" fill="#ffffd9"/>
<text transform="translate(1191.7,484.3) scale(0.95,1.0)" text-anchor="middle" font-family="'DejaVu Sans', 'Liberation Sans', sans-serif" font-size="25" fill="#000000">0.001</text>
<rect x="940.1" y="529.0" width="98.1" height="98.6" fill="#ecf7b1"/>
<text transform="translate(989.2,585.1) scale(0.95,1.0)" text-anchor="middle" font-family="'DejaVu Sans', 'Liberation Sans', sans-serif" font-size="25" fill="#000000">0.071</text>
<rect x="1041.0" y="529.0" width="97.8" height="98.6" fill="#081d58"/>
<text transform="translate(1089.9,585.1) scale(0.95,1.0)" text-anchor="middle" font-family="'DejaVu Sans', 'Liberation Sans', sans-serif" font-size="25" fill="#ffffff">0.542</text>
<rect x="1142.2" y="529.0" width="98.9" height="98.6" fill="#f2fabc"/>
<text transform="translate(1191.7,585.1) scale(0.95,1.0)" text-anchor="middle" font-family="'DejaVu Sans', 'Liberation Sans', sans-serif" font-size="25" fill="#000000">0.050</text>
<rect x="940.1" y="630.8" width="98.1" height="98.0" fill="#f4fbc1"/>
<text transform="translate(989.2,686.6) scale(0.95,1.0)" text-anchor="middle" font-family="'DejaVu Sans', 'Liberation Sans', sans-serif" font-size="25" fill="#000000">0.042</text>
<rect x="1041.0" y="630.8" width="97.8" height="98.0" fill="#feffd6"/>
<text transform="translate(1089.9,686.6) scale(0.95,1.0)" text-anchor="middle" font-family="'DejaVu Sans', 'Liberation Sans', sans-serif" font-size="25" fill="#000000">0.006</text>
<rect x="1142.2" y="630.8" width="98.9" height="98.0" fill="#52bcc2"/>
<text transform="translate(1191.7,686.6) scale(0.95,1.0)" text-anchor="middle" font-family="'DejaVu Sans', 'Liberation Sans', sans-serif" font-size="25" fill="#000000">0.253</text>
<text x="989.5" y="416.1" text-anchor="middle" font-family="'Liberation Serif', 'Times New Roman', serif" font-weight="bold" font-size="20" letter-spacing="0.25">CCA</text>
<line x1="989.2" y1="423.2" x2="989.2" y2="426.7" stroke="#333" stroke-width="1"/>
<text x="1090.2" y="416.1" text-anchor="middle" font-family="'Liberation Serif', 'Times New Roman', serif" font-weight="bold" font-size="20" letter-spacing="0.25">HCC</text>
<line x1="1089.9" y1="423.2" x2="1089.9" y2="426.7" stroke="#333" stroke-width="1"/>
<text x="1192.0" y="416.1" text-anchor="middle" font-family="'Liberation Serif', 'Times New Roman', serif" font-weight="bold" font-size="20" letter-spacing="0.25">Norm-L</text>
<line x1="1191.7" y1="423.2" x2="1191.7" y2="426.7" stroke="#333" stroke-width="1"/>
<text x="930.1" y="484.3" text-anchor="end" font-family="'Liberation Serif', 'Times New Roman', serif" font-weight="bold" font-size="20">CCA</text>
<line x1="933.6" y1="477.5" x2="938.1" y2="477.5" stroke="#999" stroke-width="1.2"/>
<text x="930.1" y="585.1" text-anchor="end" font-family="'Liberation Serif', 'Times New Roman', serif" font-weight="bold" font-size="20">HCC</text>
<line x1="933.6" y1="578.3" x2="938.1" y2="578.3" stroke="#999" stroke-width="1.2"/>
<text x="930.1" y="686.6" text-anchor="end" font-family="'Liberation Serif', 'Times New Roman', serif" font-weight="bold" font-size="20">Norm-L</text>
<line x1="933.6" y1="679.8" x2="938.1" y2="679.8" stroke="#999" stroke-width="1.2"/>
<rect x="1262.5" y="426.4" width="15.4" height="305.0" fill="url(#g3)" stroke="#bbb" stroke-width="0.8"/>
<line x1="1277.9" y1="675.6" x2="1281.7" y2="675.6" stroke="#555" stroke-width="1"/>
<text transform="translate(1284.7,680.0) scale(0.94,1.1)" font-family="'DejaVu Sans', 'Liberation Sans', sans-serif" font-size="11.5" fill="#444">0.1</text>
<line x1="1277.9" y1="619.2" x2="1281.7" y2="619.2" stroke="#555" stroke-width="1"/>
<text transform="translate(1284.7,623.6) scale(0.94,1.1)" font-family="'DejaVu Sans', 'Liberation Sans', sans-serif" font-size="11.5" fill="#444">0.2</text>
<line x1="1277.9" y1="562.8" x2="1281.7" y2="562.8" stroke="#555" stroke-width="1"/>
<text transform="translate(1284.7,567.2) scale(0.94,1.1)" font-family="'DejaVu Sans', 'Liberation Sans', sans-serif" font-size="11.5" fill="#444">0.3</text>
<line x1="1277.9" y1="506.5" x2="1281.7" y2="506.5" stroke="#555" stroke-width="1"/>
<text transform="translate(1284.7,510.9) scale(0.94,1.1)" font-family="'DejaVu Sans', 'Liberation Sans', sans-serif" font-size="11.5" fill="#444">0.4</text>
<line x1="1277.9" y1="450.1" x2="1281.7" y2="450.1" stroke="#555" stroke-width="1"/>
<text transform="translate(1284.7,454.5) scale(0.94,1.1)" font-family="'DejaVu Sans', 'Liberation Sans', sans-serif" font-size="11.5" fill="#444">0.5</text>
<text x="1106.8" y="777.0" text-anchor="middle" font-family="'Liberation Serif', 'Times New Roman', serif" font-weight="bold" font-size="36">ResSPNet</text>
<rect x="1408.4" y="428.7" width="98.5" height="97.5" fill="#f8fcca"/>
<text transform="translate(1457.7,484.3) scale(0.95,1.0)" text-anchor="middle" font-family="'DejaVu Sans', 'Liberation Sans', sans-serif" font-size="25" fill="#000000">0.032</text>
<rect x="1509.9" y="428.7" width="97.9" height="97.5" fill="#ffffd9"/>
<text transform="translate(1558.8,484.3) scale(0.95,1.0)" text-anchor="middle" font-family="'DejaVu Sans', 'Liberation Sans', sans-serif" font-size="25" fill="#000000">0.002</text>
<rect x="1610.7" y="428.7" width="98.3" height="97.5" fill="#ffffd9"/>
<text transform="translate(1659.8,484.3) scale(0.95,1.0)" text-anchor="middle" font-family="'DejaVu Sans', 'Liberation Sans', sans-serif" font-size="25" fill="#000000">0.000</text>
<rect x="1408.4" y="529.0" width="98.5" height="98.5" fill="#ffffd9"/>
<text transform="translate(1457.7,585.0) scale(0.95,1.0)" text-anchor="middle" font-family="'DejaVu Sans', 'Liberation Sans', sans-serif" font-size="25" fill="#000000">0.000</text>
<rect x="1509.9" y="529.0" width="97.9" height="98.5" fill="#081d58"/>
<text transform="translate(1558.8,585.0) scale(0.95,1.0)" text-anchor="middle" font-family="'DejaVu Sans', 'Liberation Sans', sans-serif" font-size="25" fill="#ffffff">0.661</text>
<rect x="1610.7" y="529.0" width="98.3" height="98.5" fill="#ffffd9"/>
<text transform="translate(1659.8,585.0) scale(0.95,1.0)" text-anchor="middle" font-family="'DejaVu Sans', 'Liberation Sans', sans-serif" font-size="25" fill="#000000">0.002</text>
<rect x="1408.4" y="630.9" width="98.5" height="97.6" fill="#ffffd9"/>
<text transform="translate(1457.7,686.5) scale(0.95,1.0)" text-anchor="middle" font-family="'DejaVu Sans', 'Liberation Sans', sans-serif" font-size="25" fill="#000000">0.000</text>
<rect x="1509.9" y="630.9" width="97.9" height="97.6" fill="#ffffd9"/>
<text transform="translate(1558.8,686.5) scale(0.95,1.0)" text-anchor="middle" font-family="'DejaVu Sans', 'Liberation Sans', sans-serif" font-size="25" fill="#000000">0.001</text>
<rect x="1610.7" y="630.9" width="98.3" height="97.6" fill="#57bec1"/>
<text transform="translate(1659.8,686.5) scale(0.95,1.0)" text-anchor="middle" font-family="'DejaVu Sans', 'Liberation Sans', sans-serif" font-size="25" fill="#000000">0.300</text>
<text x="1458.0" y="416.1" text-anchor="middle" font-family="'Liberation Serif', 'Times New Roman', serif" font-weight="bold" font-size="20" letter-spacing="0.25">CCA</text>
<line x1="1457.7" y1="423.2" x2="1457.7" y2="426.7" stroke="#333" stroke-width="1"/>
<text x="1559.1" y="416.1" text-anchor="middle" font-family="'Liberation Serif', 'Times New Roman', serif" font-weight="bold" font-size="20" letter-spacing="0.25">HCC</text>
<line x1="1558.8" y1="423.2" x2="1558.8" y2="426.7" stroke="#333" stroke-width="1"/>
<text x="1660.1" y="416.1" text-anchor="middle" font-family="'Liberation Serif', 'Times New Roman', serif" font-weight="bold" font-size="20" letter-spacing="0.25">Norm-L</text>
<line x1="1659.8" y1="423.2" x2="1659.8" y2="426.7" stroke="#333" stroke-width="1"/>
<text x="1398.4" y="484.3" text-anchor="end" font-family="'Liberation Serif', 'Times New Roman', serif" font-weight="bold" font-size="20">CCA</text>
<line x1="1401.9" y1="477.5" x2="1406.4" y2="477.5" stroke="#999" stroke-width="1.2"/>
<text x="1398.4" y="585.0" text-anchor="end" font-family="'Liberation Serif', 'Times New Roman', serif" font-weight="bold" font-size="20">HCC</text>
<line x1="1401.9" y1="578.2" x2="1406.4" y2="578.2" stroke="#999" stroke-width="1.2"/>
<text x="1398.4" y="686.5" text-anchor="end" font-family="'Liberation Serif', 'Times New Roman', serif" font-weight="bold" font-size="20">Norm-L</text>
<line x1="1401.9" y1="679.7" x2="1406.4" y2="679.7" stroke="#999" stroke-width="1.2"/>
<rect x="1730.3" y="426.0" width="15.9" height="305.4" fill="url(#g4)" stroke="#bbb" stroke-width="0.8"/>
<line x1="1746.2" y1="685.2" x2="1750.0" y2="685.2" stroke="#555" stroke-width="1"/>
<text transform="translate(1753.0,689.6) scale(0.94,1.1)" font-family="'DejaVu Sans', 'Liberation Sans', sans-serif" font-size="11.5" fill="#444">0.1</text>
<line x1="1746.2" y1="639.0" x2="1750.0" y2="639.0" stroke="#555" stroke-width="1"/>
<text transform="translate(1753.0,643.4) scale(0.94,1.1)" font-family="'DejaVu Sans', 'Liberation Sans', sans-serif" font-size="11.5" fill="#444">0.2</text>
<line x1="1746.2" y1="592.8" x2="1750.0" y2="592.8" stroke="#555" stroke-width="1"/>
<text transform="translate(1753.0,597.2) scale(0.94,1.1)" font-family="'DejaVu Sans', 'Liberation Sans', sans-serif" font-size="11.5" fill="#444">0.3</text>
<line x1="1746.2" y1="546.6" x2="1750.0" y2="546.6" stroke="#555" stroke-width="1"/>
<text transform="translate(1753.0,551.0) scale(0.94,1.1)" font-family="'DejaVu Sans', 'Liberation Sans', sans-serif" font-size="11.5" fill="#444">0.4</text>
<line x1="1746.2" y1="500.4" x2="1750.0" y2="500.4" stroke="#555" stroke-width="1"/>
<text transform="translate(1753.0,504.8) scale(0.94,1.1)" font-family="'DejaVu Sans', 'Liberation Sans', sans-serif" font-size="11.5" fill="#444">0.5</text>
<line x1="1746.2" y1="454.2" x2="1750.0" y2="454.2" stroke="#555" stroke-width="1"/>
<text transform="translate(1753.0,458.6) scale(0.94,1.1)" font-family="'DejaVu Sans', 'Liberation Sans', sans-serif" font-size="11.5" fill="#444">0.6</text>
<text x="1565.3" y="777.0" text-anchor="middle" font-family="'Liberation Serif', 'Times New Roman', serif" font-weight="bold" font-size="36">HTRecNet</text></svg>
</body></html>
